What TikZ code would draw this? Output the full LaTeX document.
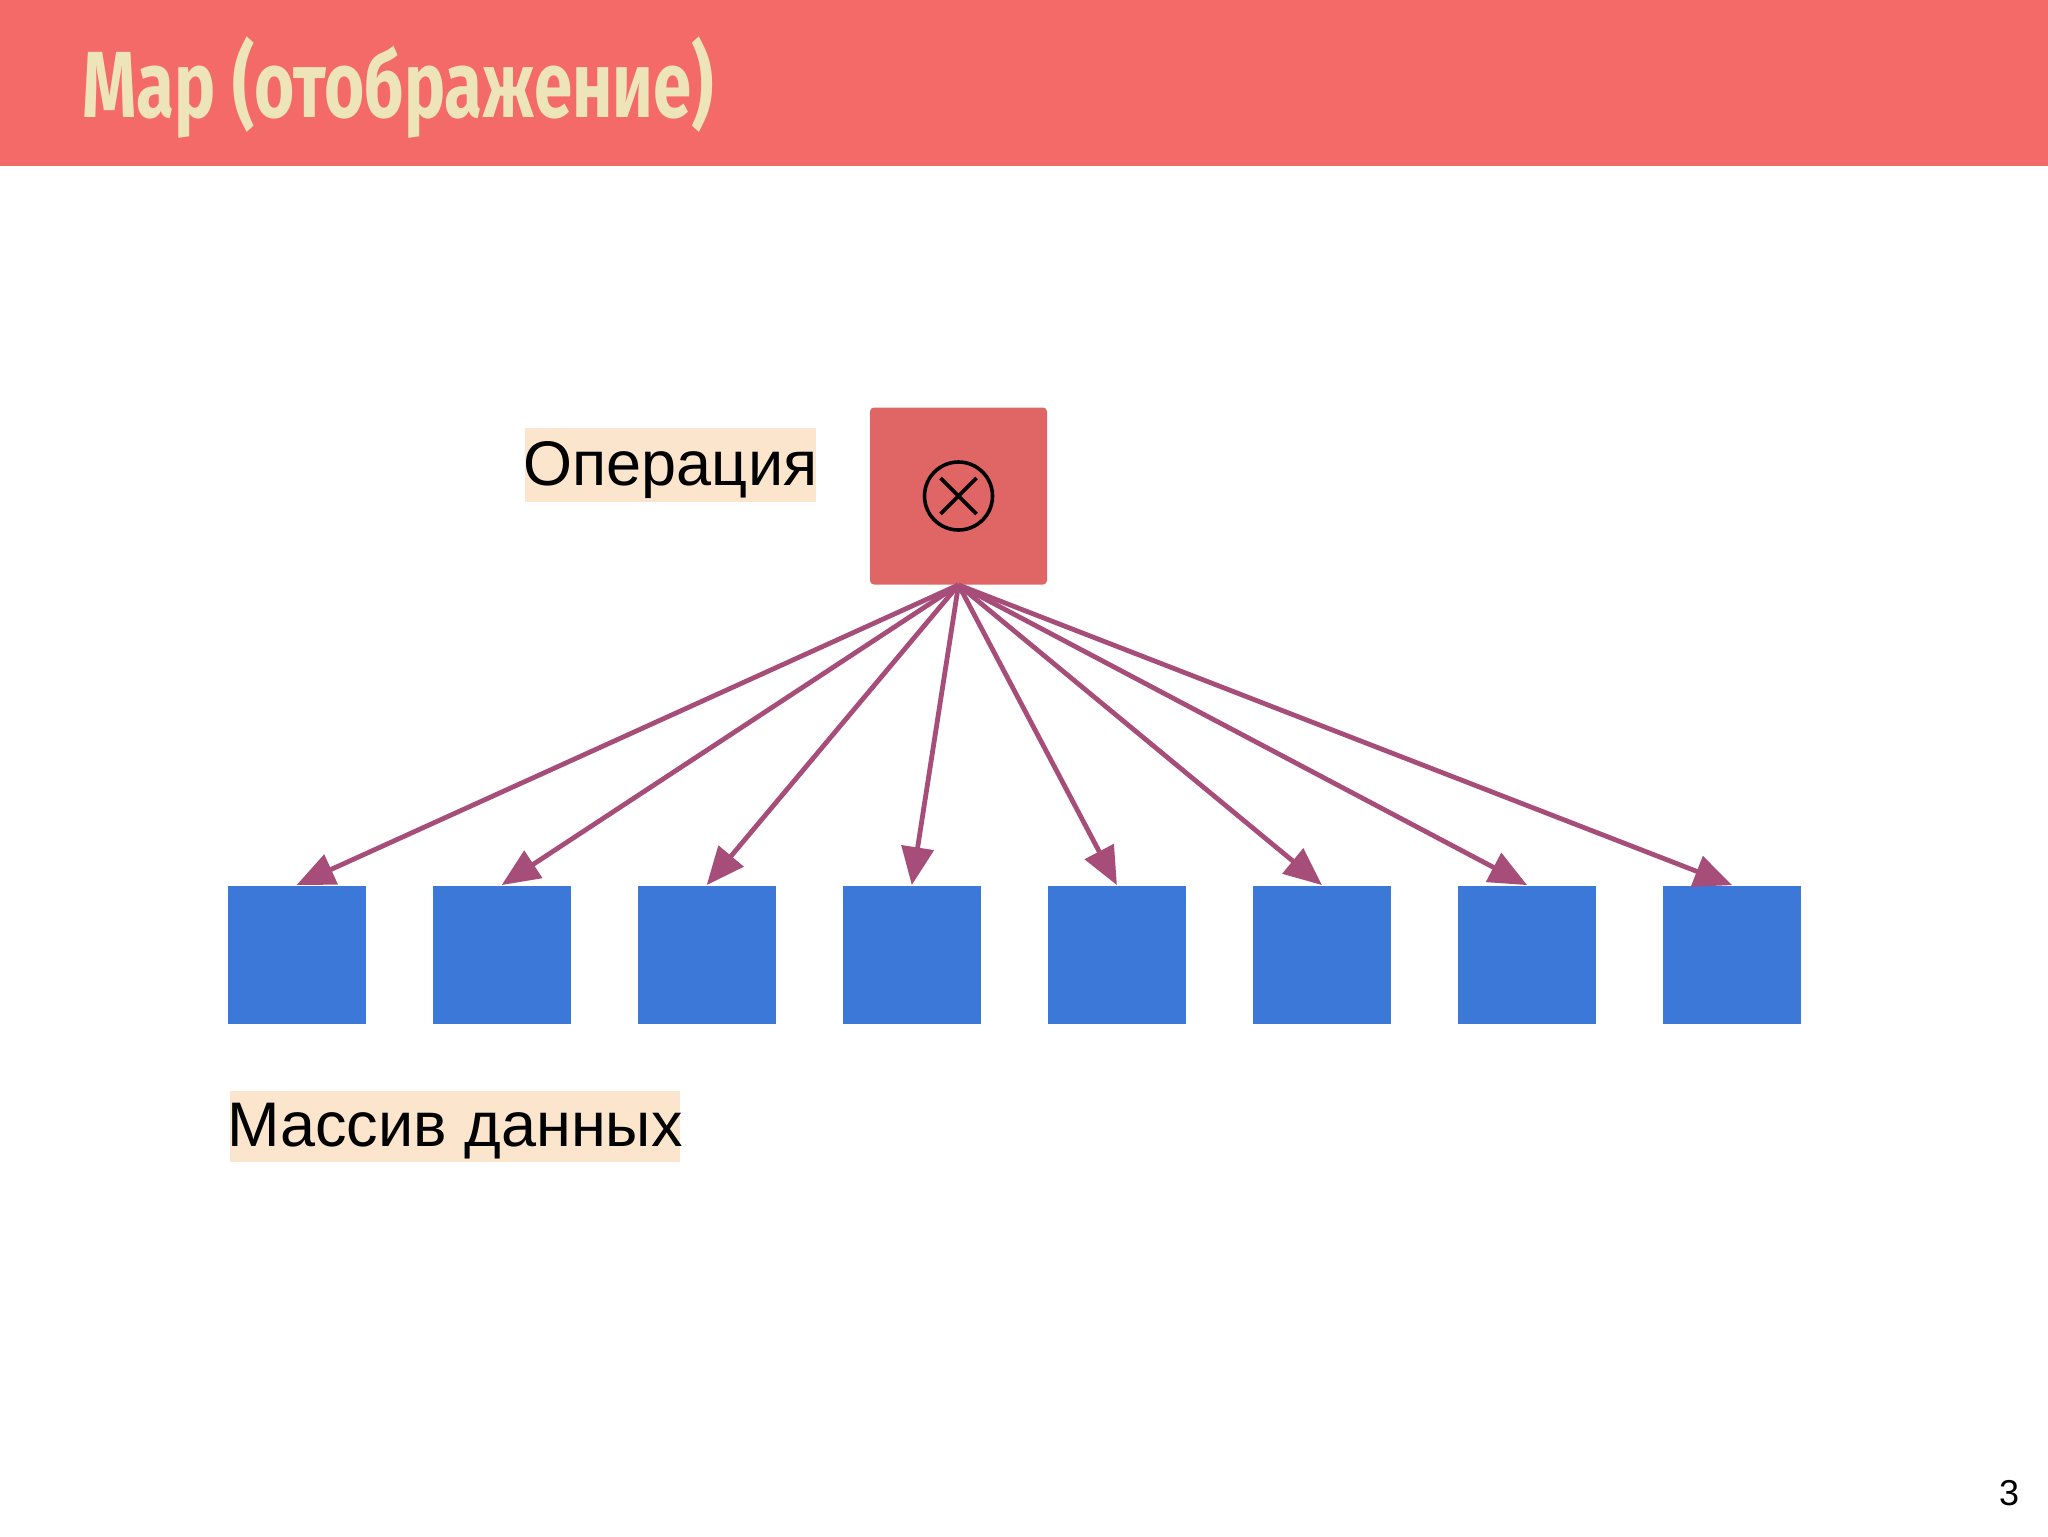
\documentclass[tikz,border=0pt]{standalone}
\usepackage{fontspec}
\setmainfont{Liberation Sans}
\newfontfamily\titlefont{Fira Sans}
\usetikzlibrary{arrows.meta}
\definecolor{headred}{HTML}{F46A68}
\definecolor{opred}{HTML}{E06666}
\definecolor{titlecream}{HTML}{EEE4BA}
\definecolor{arrowmag}{HTML}{A64D79}
\definecolor{cellblue}{HTML}{3C78D8}
\definecolor{labelbg}{HTML}{FCE5CD}
\tikzset{
  cell/.style={fill=cellblue, draw=none, minimum size=69pt, inner sep=0pt},
  opbox/.style={fill=opred, draw=none, minimum size=88.5pt, inner sep=0pt, rounded corners=2pt},
  tagbg/.style={fill=labelbg, inner sep=0pt},
  tagtext/.style={inner sep=0pt, font=\fontsize{31.5}{36}\selectfont, text=black},
  maparrow/.style={draw=arrowmag, line width=2.4pt, -{Triangle[length=19pt,width=16pt]}},
}
\begin{document}
\begin{tikzpicture}[x=0.5pt,y=-0.5pt]
\useasboundingbox (0,0) rectangle (2048,1536);
\fill[white] (0,0) rectangle (2048,1536);
\fill[headred] (0,0) rectangle (2048,166);
\node[anchor=base west, inner sep=0pt, text=titlecream] (title) at (82,118)
  {\scalebox{0.735}[1]{\titlefont\bfseries\fontsize{47}{56}\selectfont Map (отображение)}};
\node[opbox] (op) at (958.5,496) {};
\node[circle, draw=black, line width=1.8pt, minimum size=34pt, inner sep=0pt] (ot) at (op.center) {};
\draw[line width=1.8pt] ([shift={(-18,-18)}]ot.center) -- ([shift={(18,18)}]ot.center);
\draw[line width=1.8pt] ([shift={(-18,18)}]ot.center) -- ([shift={(18,-18)}]ot.center);
\node[tagbg, minimum width=145.5pt, minimum height=37pt] (opbg) at (670.5,465) {};
\node[tagtext] (oplabel) at ([yshift=-2.5pt]opbg.center) {Операция};
\node[tagbg, minimum width=225pt, minimum height=35.5pt] (arrbg) at (455,1126.5) {};
\node[tagtext] (arrlabel) at ([yshift=-2.5pt]arrbg.center) {Массив данных};
\foreach \i in {0,...,7} {
  \node[cell] (c\i) at ({296.5+205.1*\i},954.5) {};
  \draw[maparrow] (op.south) -- (c\i.north);
}
\node[font=\fontsize{18}{22}\selectfont] (pg) at (2009,1493) {3};
\end{tikzpicture}
\end{document}
